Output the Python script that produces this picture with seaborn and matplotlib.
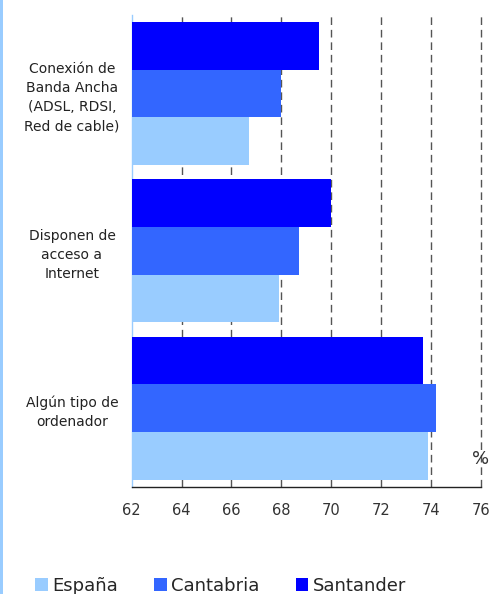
import matplotlib
matplotlib.use("Agg")
import matplotlib.pyplot as plt
import seaborn as sns
import pandas as pd
from matplotlib.patches import Patch, Rectangle

categories = ["Conexión de\nBanda Ancha\n(ADSL, RDSI,\nRed de cable)",
              "Disponen de\nacceso a\nInternet",
              "Algún tipo de\nordenador"]
series = ["Santander", "Cantabria", "España"]
santander = [69.5, 70.0, 73.7]
cantabria = [68.0, 68.7, 74.2]
espana = [66.7, 67.9, 73.9]
xticks = [62, 64, 66, 68, 70, 72, 74, 76]
colors = {"Santander": "#0000FF", "Cantabria": "#3366FF", "España": "#99CCFF"}

rows = []
for s, vals in zip(series, [santander, cantabria, espana]):
    for c, v in zip(categories, vals):
        rows.append({"cat": c, "serie": s, "val": v})
df = pd.DataFrame(rows)

sns.set_style("white")
plt.rcParams['font.family'] = ['DejaVu Sans']

fig = plt.figure(figsize=(4.9, 5.94), dpi=100)
ax = fig.add_axes([131.7/490, 1-486.7/594, (480.7-131.7)/490, (486.7-15)/594])

sns.barplot(data=df, y="cat", x="val", hue="serie", order=categories,
            hue_order=series, palette=colors, orient="h", width=0.91,
            saturation=1, legend=False, ax=ax, zorder=3, edgecolor="none", linewidth=0)

ax.set_xlim(62, 76)
ax.set_ylim(2.5, -0.5)
ax.set_xticks(xticks)
ax.set_xticklabels([str(t) for t in xticks], fontsize=10.5, color="#333333")
ax.set_xlabel("")
ax.set_ylabel("")

for t in xticks[1:]:
    ax.axvline(t, color="#555555", lw=1.0, linestyle=(0, (5.5, 3.5)), zorder=1, clip_on=False)

ax.set_yticks([0, 1, 2])
ax.set_yticklabels(categories, fontsize=10, color="#222222", linespacing=1.45)
for lab in ax.get_yticklabels():
    lab.set_ha("center")
    lab.set_multialignment("center")
ax.tick_params(axis="y", which="major", length=0, pad=43)
ax.set_yticks([-0.5, 0.5, 1.5, 2.5], minor=True)
ax.tick_params(axis="y", which="minor", length=4, color="#99CCFF", width=1, direction="out")
ax.tick_params(axis="x", length=5, color="#222222", width=1, direction="out", pad=7)

for side in ["top", "right"]:
    ax.spines[side].set_visible(False)
ax.spines["left"].set_color("#99CCFF")
ax.spines["left"].set_linewidth(1)
ax.spines["bottom"].set_color("#222222")
ax.spines["bottom"].set_linewidth(1)
ax.spines["bottom"].set_zorder(5)

ax.text(76, 0.059, "%", transform=ax.get_xaxis_transform(), ha="center", va="center",
        fontsize=13, color="#333333")

handles = [Patch(facecolor=colors[s], edgecolor="none") for s in ["España", "Cantabria", "Santander"]]
fig.legend(handles, ["España", "Cantabria", "Santander"], loc="center left",
           bbox_to_anchor=(35/490, 1-586/594), ncol=3, frameon=False, fontsize=13,
           handlelength=0.7, handleheight=0.7, handletextpad=0.25, columnspacing=2.0,
           borderpad=0, borderaxespad=0)

fig.add_artist(Rectangle((0, 0), 3/490, 1, transform=fig.transFigure,
                         facecolor="#99CCFF", edgecolor="none"))

fig.savefig("out.png", dpi=100)
